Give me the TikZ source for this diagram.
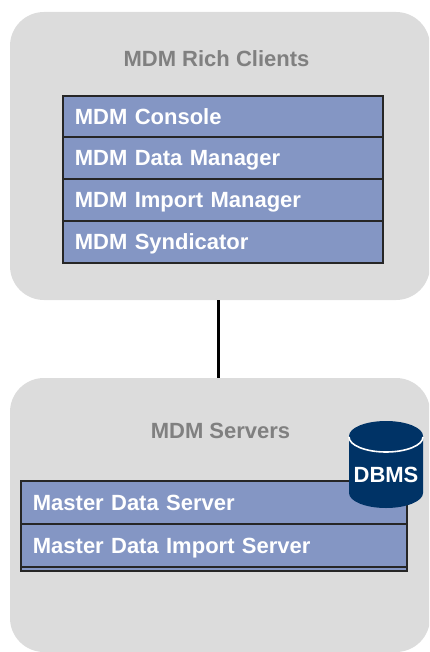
\documentclass[tikz,border=0pt]{standalone}
\usepackage{fontspec}
\setmainfont{Liberation Sans}
\definecolor{panelgray}{HTML}{DCDCDC}
\definecolor{rowblue}{HTML}{8496C4}
\definecolor{dbblue}{HTML}{003366}
\definecolor{titlegray}{HTML}{808080}
\newcommand{\diagramfont}{\bfseries\fontsize{22}{24}\selectfont}
\tikzstyle{panel}=[rectangle,fill=panelgray,rounded corners=34pt,minimum width=420pt,inner sep=0pt]
\tikzstyle{panel title}=[text=titlegray,font=\diagramfont,inner sep=0pt]
\tikzstyle{row}=[rectangle,draw=black!85,line width=1.8pt,fill=rowblue,text=white,anchor=north west,inner xsep=12pt,inner ysep=0pt,text depth=0pt,align=left,font=\diagramfont]
\tikzstyle{link}=[draw,line width=3.5pt,black]

\begin{document}
\begin{tikzpicture}[x=1pt,y=-1pt]
	\useasboundingbox (0,0) rectangle (429,652);
	\begin{scope}
		\clip (0,0) rectangle (429,652);
		% Grey panels first
		\node[panel,minimum height=288pt] (clients) at (220,156) {};
		\node[panel,minimum height=274pt] (servers) at (220,515) {};
	\end{scope}
	\node[panel title] (clientstitle) at (216.5,59) {MDM Rich Clients};
	\node[panel title] (serverstitle) at (220.5,431) {MDM Servers};
	% Rows of the two stacks
	\foreach \name/\ypos/\label in {console/95/MDM Console, data/136.5/MDM Data Manager, import/178/MDM Import Manager, synd/220/MDM Syndicator}
		\node[row,minimum width=320pt,minimum height=42pt,text width=296pt] (\name) at (62,\ypos) {\label};
	\foreach \name/\ypos/\label in {master/480/Master Data Server, masterimport/523/Master Data Import Server}
		\node[row,minimum width=386pt,minimum height=43pt,text width=362pt] (\name) at (20,\ypos) {\label};
	\node[row,minimum width=386pt,minimum height=4pt] (rowend) at (20,566) {};
	% Database on top of the first server row
	\fill[dbblue] (349,436) -- (349,493) arc[start angle=180,end angle=360,x radius=37,y radius=-15]
		-- (423,436) arc[start angle=0,end angle=180,x radius=37,y radius=-15] -- cycle;
	\draw[white,line width=1.6pt] (349,437) arc[start angle=180,end angle=360,x radius=37,y radius=-15];
	\node[text=white,font=\diagramfont,inner sep=0pt] (db) at (386,475) {DBMS};
	% Connect the panels
	\path[link] ([xshift=-1.5pt]clients.south) to ([xshift=-1.5pt]servers.north);
\end{tikzpicture}
\end{document}
